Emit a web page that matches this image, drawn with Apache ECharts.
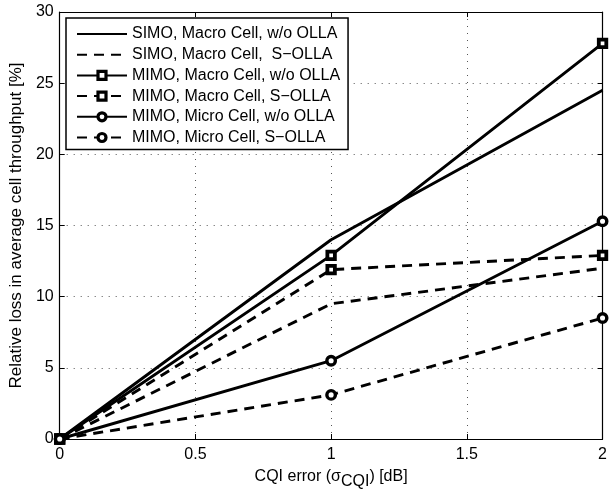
<!DOCTYPE html>
<html>
<head>
<meta charset="utf-8">
<script src="https://cdn.jsdelivr.net/npm/echarts@6/dist/echarts.min.js"></script>
<style>html,body{margin:0;padding:0;background:#fff;}#c{width:610px;height:495px;}</style>
</head>
<body>
<div id="c"></div>
<script>
var xValues = [0, 1, 2];
var simoMacroWo = [0, 14.0, 24.5];
var simoMacroS = [0, 9.5, 12.0];
var mimoMacroWo = [0, 12.9, 27.8];
var mimoMacroS = [0, 11.9, 12.9];
var mimoMicroWo = [0, 5.5, 15.3];
var mimoMicroS = [0, 3.1, 8.5];
var seriesNames = [
  'SIMO, Macro Cell, w/o OLLA',
  'SIMO, Macro Cell,  S\u2212OLLA',
  'MIMO, Macro Cell, w/o OLLA',
  'MIMO, Macro Cell, S\u2212OLLA',
  'MIMO, Micro Cell, w/o OLLA',
  'MIMO, Micro Cell, S\u2212OLLA'
];
var xTickLabels = ['0', '0.5', '1', '1.5', '2'];
var yTickLabels = ['0', '5', '10', '15', '20', '25', '30'];

var FONT = 'Liberation Sans, Arial, Helvetica, sans-serif';
var FS = 16;
function pairs(vals) { return xValues.map(function (x, i) { return [x, vals[i]]; }); }

function mk(name, vals, dashed, symbol) {
  var hasSym = !!symbol;
  return {
    name: name, type: 'line', data: pairs(vals),
    symbol: hasSym ? symbol : 'circle',
    symbolSize: symbol === 'circle' ? 8.5 : 7.5,
    showSymbol: hasSym,
    lineStyle: { color: '#000', width: 2.9, type: dashed ? [10, 7] : 'solid' },
    itemStyle: hasSym ? { color: '#fff', borderColor: '#000', borderWidth: symbol === 'rect' ? 3.8 : 3.4 }
                      : { color: 'rgba(0,0,0,0)', borderColor: 'rgba(0,0,0,0)', borderWidth: 0 },
    emphasis: { disabled: true },
    animation: false
  };
}

var legendData = seriesNames.map(function (n, i) {
  return i < 2 ? { name: n } : { name: n, itemStyle: { borderWidth: 3.2 } };
});

var gridLine = { show: true, lineStyle: { color: '#555', width: 1, type: [1, 6] } };
var chart = echarts.init(document.getElementById('c'), null, { renderer: 'canvas' });
chart.setOption({
  backgroundColor: '#fff',
  animation: false,
  textStyle: { fontFamily: FONT },
  grid: { left: 58, right: 2, top: 12, bottom: 51, containLabel: false },
  legend: {
    orient: 'vertical', left: 66, top: 18,
    backgroundColor: '#fff', borderColor: '#000', borderWidth: 1.5,
    padding: [8, 8, 4, 10], itemGap: 4.7, itemWidth: 50, itemHeight: 10,
    textStyle: { fontFamily: FONT, fontSize: FS, color: '#000', lineHeight: 16 },
    data: legendData
  },
  xAxis: [{
    type: 'value', min: 0, max: 2, interval: 0.5,
    name: '{a|CQI error (\u03c3}{s|CQI}{a|) [dB]}', nameLocation: 'middle', nameGap: 25,
    nameTextStyle: { rich: { a: { fontSize: FS, fontFamily: FONT, color: '#000' }, s: { fontSize: FS, fontFamily: FONT, color: '#000', padding: [10, 0, 0, 0] } } },
    axisLine: { show: true, onZero: false, lineStyle: { color: '#000', width: 1.2 } },
    axisTick: { show: true, inside: true, length: 5, lineStyle: { color: '#000' } },
    axisLabel: { fontSize: FS, color: '#000', fontFamily: FONT, margin: 8, formatter: function (v) { return xTickLabels[Math.round(v / 0.5)]; } },
    splitLine: gridLine
  }, {
    type: 'value', min: 0, max: 2, interval: 0.5, position: 'top',
    axisLine: { show: true, onZero: false, lineStyle: { color: '#000', width: 1.2 } },
    axisTick: { show: true, inside: true, length: 5, lineStyle: { color: '#000' } },
    axisLabel: { show: false }, splitLine: { show: false }
  }],
  yAxis: [{
    type: 'value', min: 0, max: 30, interval: 5,
    name: 'Relative loss in average cell throughput [%]', nameLocation: 'middle', nameGap: 30,
    nameTextStyle: { fontSize: 17, color: '#000', fontFamily: FONT },
    axisLine: { show: true, onZero: false, lineStyle: { color: '#000', width: 1.2 } },
    axisTick: { show: true, inside: true, length: 5, lineStyle: { color: '#000' } },
    axisLabel: { fontSize: FS, color: '#000', fontFamily: FONT, margin: 6, formatter: function (v) { return yTickLabels[Math.round(v / 5)]; } },
    splitLine: gridLine
  }, {
    type: 'value', min: 0, max: 30, interval: 5, position: 'right',
    axisLine: { show: true, onZero: false, lineStyle: { color: '#000', width: 1.2 } },
    axisTick: { show: true, inside: true, length: 5, lineStyle: { color: '#000' } },
    axisLabel: { show: false }, splitLine: { show: false }
  }],
  series: [
    mk(seriesNames[0], simoMacroWo, false, null),
    mk(seriesNames[1], simoMacroS, true, null),
    mk(seriesNames[2], mimoMacroWo, false, 'rect'),
    mk(seriesNames[3], mimoMacroS, true, 'rect'),
    mk(seriesNames[4], mimoMicroWo, false, 'circle'),
    mk(seriesNames[5], mimoMicroS, true, 'circle')
  ]
});
</script>
</body>
</html>
